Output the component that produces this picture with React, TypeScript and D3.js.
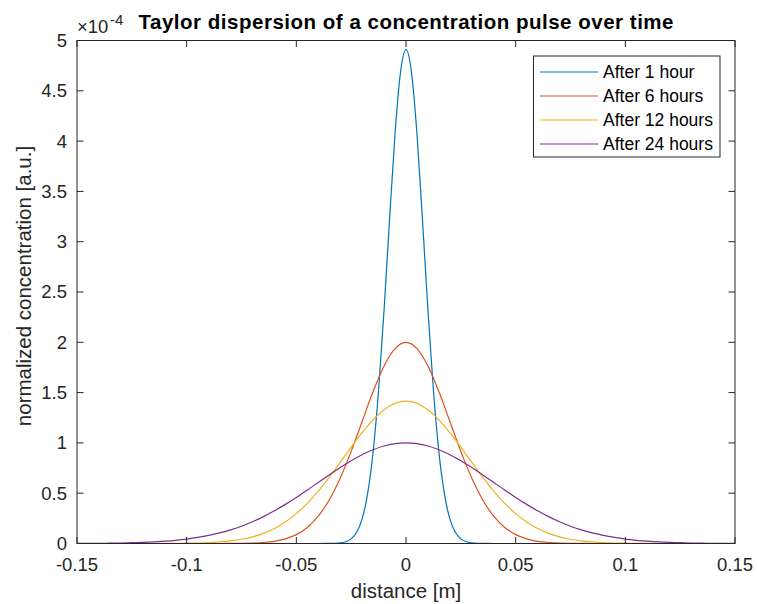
import React from "react";
import * as d3 from "d3";

// ---- Data (concentration in units of 1e-4, distance in m) ----
const distance = [
  -0.15, -0.145, -0.14, -0.135, -0.13, -0.125, -0.12, -0.115, -0.11, -0.105,
  -0.1, -0.095, -0.09, -0.085, -0.08, -0.075, -0.07, -0.065, -0.06, -0.055,
  -0.05, -0.045, -0.04, -0.035, -0.03, -0.025, -0.02, -0.015, -0.01, -0.005,
  0,
  0.005, 0.01, 0.015, 0.02, 0.025, 0.03, 0.035, 0.04, 0.045, 0.05,
  0.055, 0.06, 0.065, 0.07, 0.075, 0.08, 0.085, 0.09, 0.095, 0.1,
  0.105, 0.11, 0.115, 0.12, 0.125, 0.13, 0.135, 0.14, 0.145, 0.15,
];

const distance1h = [
  -0.15, -0.1, -0.05, -0.04, -0.035, -0.0325, -0.03, -0.0275, -0.025, -0.0225,
  -0.02, -0.0175, -0.015, -0.0125, -0.01, -0.0075, -0.005, -0.0025,
  0,
  0.0025, 0.005, 0.0075, 0.01, 0.0125, 0.015, 0.0175, 0.02, 0.0225, 0.025,
  0.0275, 0.03, 0.0325, 0.035, 0.04, 0.05, 0.1, 0.15,
];

const after1h = [
  0, 0, 0, 0, 0.001, 0.002, 0.006, 0.017, 0.046, 0.111,
  0.245, 0.495, 0.91, 1.523, 2.321, 3.222, 4.071, 4.686,
  4.91,
  4.686, 4.071, 3.222, 2.321, 1.523, 0.91, 0.495, 0.245, 0.111, 0.046,
  0.017, 0.006, 0.002, 0.001, 0, 0, 0, 0,
];

const after6h = [
  0, 0, 0, 0, 0, 0, 0, 0, 0, 0,
  0, 0, 0, 0, 0.001, 0.002, 0.004, 0.01, 0.022, 0.046,
  0.088, 0.159, 0.271, 0.433, 0.649, 0.916, 1.213, 1.51, 1.765, 1.938,
  2.0,
  1.938, 1.765, 1.51, 1.213, 0.916, 0.649, 0.433, 0.271, 0.159, 0.088,
  0.046, 0.022, 0.01, 0.004, 0.002, 0.001, 0, 0, 0, 0,
  0, 0, 0, 0, 0, 0, 0, 0, 0, 0,
];

const after12h = [
  0, 0, 0, 0, 0, 0, 0, 0, 0.001, 0.001,
  0.003, 0.005, 0.009, 0.016, 0.026, 0.042, 0.066, 0.101, 0.149, 0.214,
  0.297, 0.399, 0.521, 0.658, 0.806, 0.958, 1.102, 1.229, 1.329, 1.393,
  1.415,
  1.393, 1.329, 1.229, 1.102, 0.958, 0.806, 0.658, 0.521, 0.399, 0.297,
  0.214, 0.149, 0.101, 0.066, 0.042, 0.026, 0.016, 0.009, 0.005, 0.003,
  0.001, 0.001, 0, 0, 0, 0, 0, 0, 0, 0,
];

const after24h = [
  0.001, 0.001, 0.002, 0.003, 0.005, 0.008, 0.011, 0.016, 0.023, 0.032,
  0.044, 0.06, 0.08, 0.105, 0.135, 0.172, 0.216, 0.267, 0.325, 0.389,
  0.458, 0.531, 0.607, 0.682, 0.755, 0.823, 0.883, 0.932, 0.969, 0.992,
  1.0,
  0.992, 0.969, 0.932, 0.883, 0.823, 0.755, 0.682, 0.607, 0.531, 0.458,
  0.389, 0.325, 0.267, 0.216, 0.172, 0.135, 0.105, 0.08, 0.06, 0.044,
  0.032, 0.023, 0.016, 0.011, 0.008, 0.005, 0.003, 0.002, 0.001, 0.001,
];

const seriesNames = ["After 1 hour", "After 6 hours", "After 12 hours", "After 24 hours"];
const seriesColors = ["#0072BD", "#D95319", "#EDB120", "#7E2F8E"];

const xTicks = [-0.15, -0.1, -0.05, 0, 0.05, 0.1, 0.15];
const xTickLabels = ["-0.15", "-0.1", "-0.05", "0", "0.05", "0.1", "0.15"];
const yTicks = [0, 0.5, 1, 1.5, 2, 2.5, 3, 3.5, 4, 4.5, 5];
const yTickLabels = ["0", "0.5", "1", "1.5", "2", "2.5", "3", "3.5", "4", "4.5", "5"];

const titleText = "Taylor dispersion of a concentration pulse over time";
const xLabel = "distance [m]";
const yLabel = "normalized concentration [a.u.]";
const exponentBase = "×10";
const exponentPower = "-4";

export default function App() {
  const W = 757, H = 604;
  const L = 77, R = 735, T = 40.5, B = 543.5;
  const x = d3.scaleLinear().domain([-0.15, 0.15]).range([L, R]);
  const y = d3.scaleLinear().domain([0, 5]).range([B, T]);
  const font = "'Liberation Sans', Arial, Helvetica, sans-serif";
  const axisColor = "#262626";
  const tickLen = 6.5;

  const series = [
    { xs: distance1h, ys: after1h },
    { xs: distance, ys: after6h },
    { xs: distance, ys: after12h },
    { xs: distance, ys: after24h },
  ];

  const line = d3
    .line<[number, number]>()
    .x((d) => x(d[0]))
    .y((d) => y(d[1]))
    .curve(d3.curveMonotoneX);

  const legX = 533.5, legY = 56, legW = 186.5, legH = 101;
  const rowYs = [72, 96, 120, 144];

  return (
    <svg
      width={W}
      height={H}
      style={{ position: "absolute", left: 0, top: 0, background: "#fff" }}
      fontFamily={font}
    >
      <rect x={0} y={0} width={W} height={H} fill="#fff" />
      {/* curves */}
      <g fill="none">
        {series.map((s, i) => (
          <path
            key={i}
            d={line(s.xs.map((v, j) => [v, s.ys[j]] as [number, number])) || ""}
            stroke={seriesColors[i]}
            strokeWidth={1.2}
          />
        ))}
      </g>
      {/* box */}
      <rect x={L} y={T} width={R - L} height={B - T} fill="none" stroke={axisColor} strokeWidth={1} />
      {/* x ticks */}
      {xTicks.map((t, i) => (
        <g key={"xt" + i}>
          <line x1={x(t)} x2={x(t)} y1={B} y2={B - tickLen} stroke={axisColor} />
          <line x1={x(t)} x2={x(t)} y1={T} y2={T + tickLen} stroke={axisColor} />
          <text x={x(t)} y={571} textAnchor="middle" fontSize={18.5} fill={axisColor}>
            {xTickLabels[i]}
          </text>
        </g>
      ))}
      {/* y ticks */}
      {yTicks.map((t, i) => (
        <g key={"yt" + i}>
          <line x1={L} x2={L + tickLen} y1={y(t)} y2={y(t)} stroke={axisColor} />
          <line x1={R} x2={R - tickLen} y1={y(t)} y2={y(t)} stroke={axisColor} />
          <text x={67} y={y(t)} dy="0.35em" textAnchor="end" fontSize={18.5} fill={axisColor}>
            {yTickLabels[i]}
          </text>
        </g>
      ))}
      {/* exponent */}
      <text x={77} y={33} fontSize={18.5} fill={axisColor}>
        {exponentBase}
      </text>
      <text x={110} y={25} fontSize={15} fill={axisColor}>
        {exponentPower}
      </text>
      {/* title */}
      <text
        x={406}
        y={29}
        textAnchor="middle"
        fontSize={20.5}
        fontWeight="bold"
        fill="#000"
        textLength={535}
        lengthAdjust="spacing"
      >
        {titleText}
      </text>
      {/* axis labels */}
      <text x={406} y={598} textAnchor="middle" fontSize={20.5} fill={axisColor}>
        {xLabel}
      </text>
      <text
        transform={`translate(31, 286) rotate(-90)`}
        textAnchor="middle"
        fontSize={20.5}
        fill={axisColor}
      >
        {yLabel}
      </text>
      {/* legend */}
      <rect x={legX} y={legY} width={legW} height={legH} fill="#fff" stroke={axisColor} strokeWidth={1} />
      {seriesNames.map((n, i) => (
        <g key={"lg" + i}>
          <line x1={540} x2={598} y1={rowYs[i]} y2={rowYs[i]} stroke={seriesColors[i]} strokeWidth={1.2} />
          <text x={603} y={rowYs[i]} dy="0.35em" fontSize={17.5} fill="#000">
            {n}
          </text>
        </g>
      ))}
    </svg>
  );
}
